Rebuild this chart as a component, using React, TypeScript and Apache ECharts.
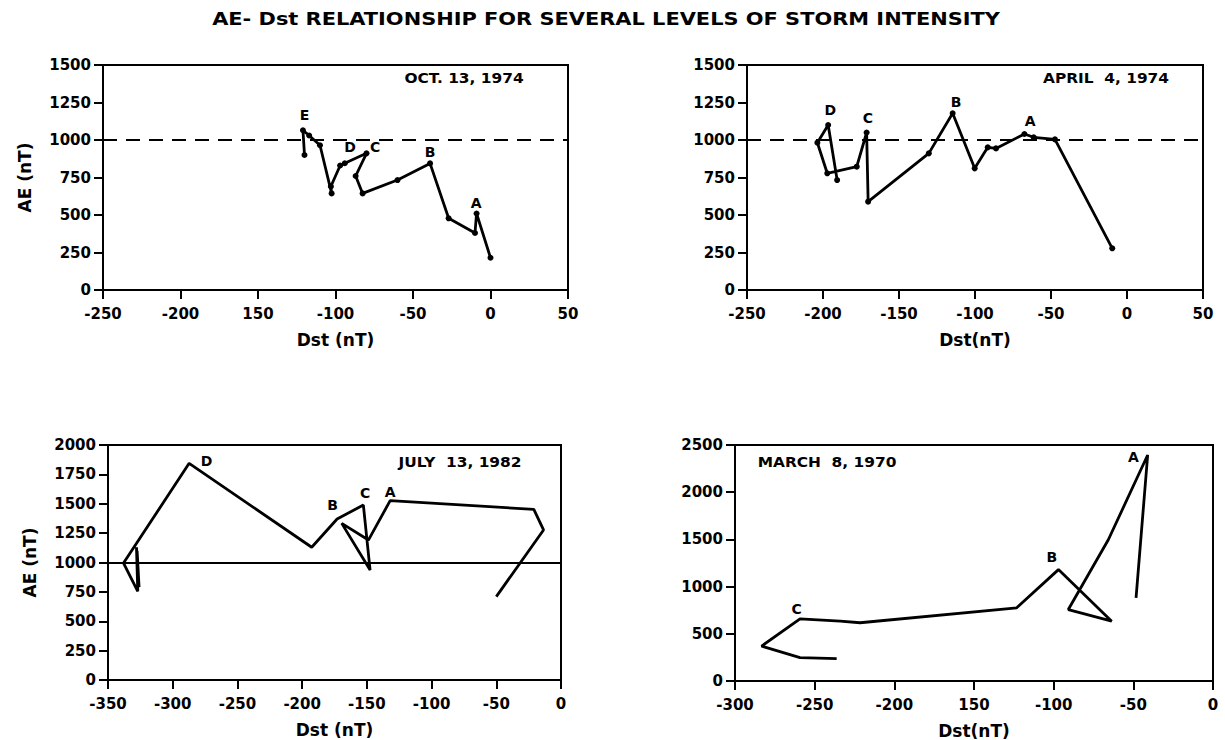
import React, { useEffect, useRef } from "react";
import * as echarts from "echarts";

// ---- Data ----
const titleText = "AE- Dst RELATIONSHIP FOR SEVERAL LEVELS OF STORM INTENSITY";

// Panel 1: OCT. 13, 1974
const oct1974Dst = [0, -9, -10, -27, -39, -60, -82.5, -87, -80, -94, -97, -103, -102.5, -110, -117, -121, -120];
const oct1974AE = [215, 510, 380, 478, 844, 733, 644, 760, 911, 845, 830, 690, 644, 965, 1030, 1065, 900];
const oct1974Letters = ["E", "D", "C", "B", "A"];
const oct1974LetterDst = [-120, -90.6, -74.5, -39, -9.3];
const oct1974LetterAE = [1167, 955, 953, 922, 582];
const oct1974XLabels = ["-250", "-200", "150", "-100", "-50", "0", "50"];

// Panel 2: APRIL 4, 1974
const apr1974Dst = [-9.7, -47.4, -61.4, -67.5, -86.2, -91.6, -100.2, -114.7, -130.4, -170.3, -171.3, -177.8, -197.2, -203.7, -196.6, -190.7];
const apr1974AE = [278, 1004, 1018, 1040, 944, 951, 811, 1178, 911, 589, 1050, 822, 778, 982, 1100, 733];
const apr1974Letters = ["D", "C", "B", "A"];
const apr1974LetterDst = [-195.2, -170.4, -112.4, -63.7];
const apr1974LetterAE = [1200, 1149, 1255, 1129];
const apr1974XLabels = ["-250", "-200", "-150", "-100", "-50", "0", "50"];

// Panel 3: JULY 13, 1982
const jul1982Dst = [-50, -13.5, -21, -132, -148.8, -169.4, -147.5, -152.7, -173, -192.6, -287.3, -338, -327, -328, -326, -327.5, -326.5];
const jul1982AE = [710, 1277, 1452, 1526, 1191, 1333, 936, 1489, 1370, 1130, 1844, 995, 755, 1130, 790, 1100, 810];
const jul1982Letters = ["D", "B", "C", "A"];
const jul1982LetterDst = [-273.9, -176.4, -151.4, -132];
const jul1982LetterAE = [1866, 1489, 1589, 1598];
const jul1982XLabels = ["-350", "-300", "-250", "-200", "-150", "-100", "-50", "0"];

// Panel 4: MARCH 8, 1970
const mar1970Dst = [-48.3, -41, -65.7, -90.8, -63.6, -97, -123.2, -221.5, -234, -259.2, -283.3, -259.2, -236.2];
const mar1970AE = [880, 2394, 1496, 757, 634, 1180, 775, 617, 634, 659, 370, 247, 236];
const mar1970Letters = ["A", "B", "C"];
const mar1970LetterDst = [-50, -101.2, -261.3];
const mar1970LetterAE = [2376, 1314, 765];
const mar1970XLabels = ["-300", "-250", "-200", "150", "-100", "-50", "0"];

const FONT = "DejaVu Sans";

type PanelCfg = {
  grid: { left: number; top: number; width: number; height: number };
  xMin: number; xMax: number; xInterval: number; xLabels: string[];
  yMax: number; yInterval: number;
  dst: number[]; ae: number[];
  letters: string[]; letterDst: number[]; letterAE: number[];
  markers: boolean;
  refLine: "dashed" | "solid" | null;
  yName: string;
  xName: string;
  date: string;
  dateX: number; dateY: number;
};

const panels: PanelCfg[] = [
  {
    grid: { left: 103, top: 65, width: 465, height: 225 },
    xMin: -250, xMax: 50, xInterval: 50, xLabels: oct1974XLabels,
    yMax: 1500, yInterval: 250,
    dst: oct1974Dst, ae: oct1974AE,
    letters: oct1974Letters, letterDst: oct1974LetterDst, letterAE: oct1974LetterAE,
    markers: true, refLine: "dashed", yName: "AE (nT)", xName: "Dst (nT)",
    date: "OCT. 13, 1974", dateX: 464, dateY: 78,
  },
  {
    grid: { left: 747, top: 65, width: 456, height: 225 },
    xMin: -250, xMax: 50, xInterval: 50, xLabels: apr1974XLabels,
    yMax: 1500, yInterval: 250,
    dst: apr1974Dst, ae: apr1974AE,
    letters: apr1974Letters, letterDst: apr1974LetterDst, letterAE: apr1974LetterAE,
    markers: true, refLine: "dashed", yName: "", xName: "Dst(nT)",
    date: "APRIL  4, 1974", dateX: 1106, dateY: 78,
  },
  {
    grid: { left: 108, top: 445, width: 453, height: 235 },
    xMin: -350, xMax: 0, xInterval: 50, xLabels: jul1982XLabels,
    yMax: 2000, yInterval: 250,
    dst: jul1982Dst, ae: jul1982AE,
    letters: jul1982Letters, letterDst: jul1982LetterDst, letterAE: jul1982LetterAE,
    markers: false, refLine: "solid", yName: "AE (nT)", xName: "Dst (nT)",
    date: "JULY  13, 1982", dateX: 460, dateY: 462,
  },
  {
    grid: { left: 735, top: 445, width: 478, height: 237 },
    xMin: -300, xMax: 0, xInterval: 50, xLabels: mar1970XLabels,
    yMax: 2500, yInterval: 500,
    dst: mar1970Dst, ae: mar1970AE,
    letters: mar1970Letters, letterDst: mar1970LetterDst, letterAE: mar1970LetterAE,
    markers: false, refLine: null, yName: "", xName: "Dst(nT)",
    date: "MARCH  8, 1970", dateX: 827, dateY: 462,
  },
];

function buildOption() {
  const grid: any[] = [];
  const xAxis: any[] = [];
  const yAxis: any[] = [];
  const series: any[] = [];
  const graphic: any[] = [];

  panels.forEach((p, i) => {
    grid.push({
      ...p.grid,
      show: true,
      borderColor: "#000",
      borderWidth: 2,
      backgroundColor: "transparent",
    });
    xAxis.push({
      type: "value",
      gridIndex: i,
      min: p.xMin,
      max: p.xMax,
      interval: p.xInterval,
      name: p.xName,
      nameLocation: "middle",
      nameGap: 41,
      nameTextStyle: { fontFamily: FONT, fontWeight: "bold", fontSize: 17, color: "#000" },
      axisLine: { show: true, onZero: false, lineStyle: { color: "#000", width: 2 } },
      axisTick: { show: true, length: 9, lineStyle: { color: "#000", width: 2 } },
      splitLine: { show: false },
      axisLabel: {
        fontFamily: FONT,
        fontWeight: "bold",
        fontSize: 15,
        color: "#000",
        margin: 16,
        formatter: (v: number) => {
          const idx = Math.round((v - p.xMin) / p.xInterval);
          return p.xLabels[idx] ?? String(v);
        },
      },
    });
    yAxis.push({
      type: "value",
      gridIndex: i,
      min: 0,
      max: p.yMax,
      interval: p.yInterval,
      name: p.yName,
      nameLocation: "middle",
      nameGap: 70,
      nameTextStyle: { fontFamily: FONT, fontWeight: "bold", fontSize: 17, color: "#000" },
      axisLine: { show: true, onZero: false, lineStyle: { color: "#000", width: 2 } },
      axisTick: { show: true, length: 9, lineStyle: { color: "#000", width: 2 } },
      splitLine: { show: false },
      axisLabel: {
        fontFamily: FONT,
        fontWeight: "bold",
        fontSize: 15,
        color: "#000",
        margin: 12,
        formatter: (v: number) => String(v),
      },
    });

    const lineData = p.dst.map((d, k) => [d, p.ae[k]]);
    const s: any = {
      type: "line",
      xAxisIndex: i,
      yAxisIndex: i,
      data: lineData,
      showSymbol: p.markers,
      symbol: "circle",
      symbolSize: p.markers ? 6 : 0,
      itemStyle: { color: "#000" },
      lineStyle: { color: "#000", width: 2.8 },
      z: 5,
    };
    if (p.refLine) {
      s.markLine = {
        silent: true,
        symbol: ["none", "none"],
        label: { show: false },
        lineStyle: {
          color: "#000",
          width: 2,
          type: p.refLine === "dashed" ? [14, 9] : "solid",
        },
        data: [{ yAxis: 1000 }],
      };
    }
    series.push(s);

    series.push({
      type: "scatter",
      xAxisIndex: i,
      yAxisIndex: i,
      symbolSize: 1,
      itemStyle: { color: "rgba(0,0,0,0)", opacity: 1 },
      data: p.letters.map((l, k) => [p.letterDst[k], p.letterAE[k], l]),
      label: {
        show: true,
        position: "inside",
        formatter: (q: any) => q.data[2],
        fontFamily: FONT,
        fontWeight: "bold",
        fontSize: 14,
        color: "#000",
        opacity: 1,
        textBorderWidth: 0,
      },
      z: 6,
    });

    graphic.push({
      type: "text",
      x: p.dateX,
      y: p.dateY,
      scaleX: 1.1,
      style: {
        text: p.date,
        fontFamily: FONT,
        fontWeight: "bold",
        fontSize: 14,
        fill: "#000",
        align: "center",
        verticalAlign: "middle",
      },
    });
  });

  graphic.push({
    type: "text",
    x: 606,
    y: 19,
    scaleX: 1.23,
    style: {
      text: titleText,
      fontFamily: FONT,
      fontWeight: "bold",
      fontSize: 17,
      fill: "#000",
      align: "center",
      verticalAlign: "middle",
    },
  });

  return {
    animation: false,
    backgroundColor: "#fff",
    grid,
    xAxis,
    yAxis,
    series,
    graphic,
  };
}

export default function App() {
  const ref = useRef<HTMLDivElement>(null);
  useEffect(() => {
    if (!ref.current) return;
    const chart = echarts.init(ref.current, undefined, { renderer: "svg" });
    chart.setOption(buildOption() as any);
    return () => chart.dispose();
  }, []);
  return (
    <div
      ref={ref}
      style={{ position: "fixed", left: 0, top: 0, width: 1225, height: 740, background: "#fff" }}
    />
  );
}
